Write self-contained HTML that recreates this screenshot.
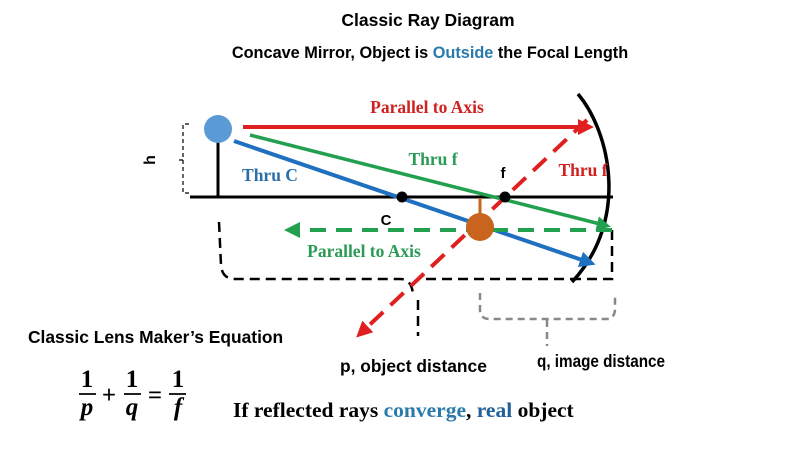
<!DOCTYPE html>
<html><head><meta charset="utf-8"><style>
html,body{margin:0;padding:0;background:#fff;width:800px;height:450px;overflow:hidden}
svg{display:block}
.s{font-family:"Liberation Sans",sans-serif;font-weight:bold}
.r{font-family:"Liberation Serif",serif;font-weight:bold}
</style></head><body>
<svg width="800" height="450" viewBox="0 0 800 450" xmlns="http://www.w3.org/2000/svg">
<defs>
<marker id="ar" markerWidth="4" markerHeight="4" refX="2" refY="2" orient="auto" markerUnits="strokeWidth"><path d="M0,0 L4,2 L0,4 z" fill="#e02020"/></marker>
<marker id="ag" markerWidth="4" markerHeight="4" refX="2" refY="2" orient="auto" markerUnits="strokeWidth"><path d="M0,0 L4,2 L0,4 z" fill="#22a050"/></marker>
<marker id="ab" markerWidth="4" markerHeight="4" refX="2" refY="2" orient="auto" markerUnits="strokeWidth"><path d="M0,0 L4,2 L0,4 z" fill="#2070c0"/></marker>
</defs>
<text x="428" y="26" class="s" font-size="17.5" text-anchor="middle">Classic Ray Diagram</text>
<text x="430" y="58" class="s" font-size="16.3" text-anchor="middle">Concave Mirror, Object is <tspan fill="#2a7aaa">Outside</tspan>  the Focal Length</text>

<path d="M189,124 L183,124 L183,160 L178,160 M183,160 L183,193 L190,193" fill="none" stroke="#000" stroke-width="1.2" stroke-dasharray="4,3"/>
<text x="155" y="160" class="s" font-size="16" transform="rotate(-90 155 160)" text-anchor="middle">h</text>

<line x1="190" y1="197" x2="613" y2="197" stroke="#000" stroke-width="3"/>
<line x1="218" y1="140" x2="218" y2="197" stroke="#000" stroke-width="3"/>

<path d="M578,94 C610,132 630,220 572,282" fill="none" stroke="#000" stroke-width="3.5"/>

<path d="M219,222 L221,265 Q222,279 235,279 L400,279 Q412,279 413,295 M418,300 L418,336 M612,230 L612,279 L570,279 M580,279 L420,279" fill="none" stroke="#000" stroke-width="2.5" stroke-dasharray="10,6"/>

<path d="M480,293 L480,310 Q480,319 490,319 L607,319 Q614,319 615,310 L615,293 M547,320 L547,346" fill="none" stroke="#888" stroke-width="2.5" stroke-dasharray="7,5"/>

<line x1="243" y1="127" x2="586" y2="127" stroke="#e02020" stroke-width="4" marker-end="url(#ar)"/>
<line x1="250" y1="135" x2="604" y2="225" stroke="#22a050" stroke-width="3.5" marker-end="url(#ag)"/>
<line x1="234" y1="141" x2="588" y2="262" stroke="#2070c0" stroke-width="4" marker-end="url(#ab)"/>
<line x1="612" y1="230" x2="292" y2="230" stroke="#22a050" stroke-width="4" stroke-dasharray="16,10" marker-end="url(#ag)"/>
<line x1="587" y1="120" x2="362" y2="332" stroke="#e02020" stroke-width="4" stroke-dasharray="18,10" marker-end="url(#ar)"/>

<circle cx="218" cy="129" r="14" fill="#5b9bd5"/>
<line x1="480" y1="198" x2="480" y2="216" stroke="#c8641e" stroke-width="3"/>
<circle cx="480" cy="227" r="14" fill="#c8641e"/>
<circle cx="402" cy="197" r="5.5" fill="#000"/>
<circle cx="505" cy="197" r="5.5" fill="#000"/>

<text x="427" y="113" class="r" font-size="17.5" fill="#d02020" text-anchor="middle">Parallel to Axis</text>
<text x="433" y="165" class="r" font-size="17.5" fill="#2a9a55" text-anchor="middle">Thru f</text>
<text x="270" y="181" class="r" font-size="17.5" fill="#2a6fa8" text-anchor="middle">Thru C</text>
<text x="503" y="178" class="s" font-size="15" text-anchor="middle">f</text>
<text x="583" y="176" class="r" font-size="17.5" fill="#d02020" text-anchor="middle">Thru f</text>
<text x="386" y="225" class="s" font-size="15" text-anchor="middle">C</text>
<text x="364" y="257" class="r" font-size="17.5" fill="#2a9a55" text-anchor="middle">Parallel to Axis</text>

<text x="28" y="343" class="s" font-size="17.4">Classic Lens Maker’s Equation</text>
<text x="340" y="372" class="s" font-size="17.4">p, object distance</text>
<text x="537" y="367" class="s" font-size="17.4" textLength="128" lengthAdjust="spacingAndGlyphs">q, image distance</text>

<g class="r" font-size="25" text-anchor="middle" font-style="italic">
<text x="87" y="387" font-style="normal">1</text>
<line x1="79" y1="394" x2="96" y2="394" stroke="#000" stroke-width="1.8"/>
<text x="87" y="415">p</text>
<text x="109" y="403" font-style="normal">+</text>
<text x="132" y="387" font-style="normal">1</text>
<line x1="124" y1="394" x2="141" y2="394" stroke="#000" stroke-width="1.8"/>
<text x="132" y="415">q</text>
<text x="155" y="403" font-style="normal">=</text>
<text x="178" y="387" font-style="normal">1</text>
<line x1="169" y1="394" x2="186" y2="394" stroke="#000" stroke-width="1.8"/>
<text x="178" y="415">f</text>
</g>
<text x="233" y="417" class="r" font-size="21.5">If reflected rays <tspan fill="#2a7aaa">converge</tspan>, <tspan fill="#1f5f9a">real</tspan> object</text>
</svg>
</body></html>
